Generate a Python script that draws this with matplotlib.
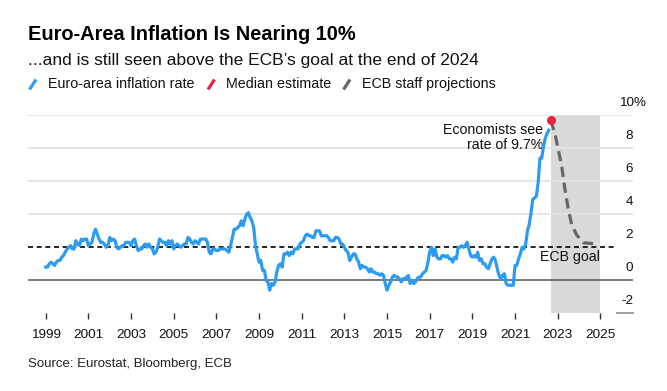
import numpy as np
import matplotlib
matplotlib.use("Agg")
import matplotlib.pyplot as plt
from matplotlib.lines import Line2D

plt.rcParams['font.family'] = ['Liberation Sans', 'DejaVu Sans']

# Euro-area HICP inflation, monthly, Jan 1999 - Aug 2022 (% y/y)
inflation = [
    0.8, 0.8, 1.0, 1.1, 1.0, 0.9, 1.1, 1.2, 1.2, 1.4, 1.5, 1.7,   # 1999
    1.9, 2.0, 2.1, 1.9, 1.9, 2.4, 2.2, 2.1, 2.5, 2.4, 2.5, 2.5,   # 2000
    2.1, 2.2, 2.3, 2.8, 3.1, 2.8, 2.5, 2.3, 2.3, 2.2, 2.0, 2.1,   # 2001
    2.6, 2.4, 2.5, 2.4, 2.0, 1.9, 2.0, 2.1, 2.1, 2.3, 2.3, 2.3,   # 2002
    2.1, 2.4, 2.5, 2.1, 1.8, 1.9, 1.9, 2.1, 2.2, 2.0, 2.2, 2.0,   # 2003
    1.9, 1.6, 1.7, 2.0, 2.5, 2.4, 2.3, 2.3, 2.1, 2.4, 2.2, 2.4,   # 2004
    1.9, 2.1, 2.2, 2.1, 2.0, 2.1, 2.2, 2.2, 2.6, 2.5, 2.3, 2.2,   # 2005
    2.4, 2.3, 2.2, 2.5, 2.5, 2.5, 2.5, 2.3, 1.7, 1.6, 1.9, 1.9,   # 2006
    1.8, 1.8, 1.9, 1.9, 1.9, 1.9, 1.8, 1.7, 2.1, 2.6, 3.1, 3.1,   # 2007
    3.2, 3.3, 3.6, 3.3, 3.7, 4.0, 4.1, 3.8, 3.6, 3.2, 2.1, 1.6,   # 2008
    1.1, 1.2, 0.6, 0.6, 0.0, -0.1, -0.6, -0.2, -0.3, -0.1, 0.5, 0.9,  # 2009
    1.0, 0.8, 1.6, 1.6, 1.7, 1.5, 1.7, 1.6, 1.9, 1.9, 1.9, 2.2,   # 2010
    2.3, 2.4, 2.7, 2.8, 2.7, 2.7, 2.6, 2.6, 3.0, 3.0, 3.0, 2.7,   # 2011
    2.7, 2.7, 2.7, 2.6, 2.4, 2.4, 2.4, 2.6, 2.6, 2.5, 2.2, 2.2,   # 2012
    2.0, 1.8, 1.7, 1.2, 1.4, 1.6, 1.6, 1.3, 1.1, 0.7, 0.9, 0.8,   # 2013
    0.8, 0.7, 0.5, 0.7, 0.5, 0.5, 0.4, 0.4, 0.3, 0.4, 0.3, -0.2,  # 2014
    -0.6, -0.3, -0.1, 0.2, 0.3, 0.2, 0.2, 0.1, -0.1, 0.1, 0.1, 0.2,  # 2015
    0.3, -0.2, 0.0, -0.2, -0.1, 0.1, 0.2, 0.2, 0.4, 0.5, 0.6, 1.1,  # 2016
    1.7, 2.0, 1.5, 1.9, 1.4, 1.3, 1.3, 1.5, 1.5, 1.4, 1.5, 1.3,   # 2017
    1.3, 1.1, 1.4, 1.3, 2.0, 2.0, 2.1, 2.0, 2.1, 2.3, 1.9, 1.5,   # 2018
    1.4, 1.5, 1.4, 1.7, 1.2, 1.3, 1.0, 1.0, 0.8, 0.7, 1.0, 1.3,   # 2019
    1.4, 1.2, 0.7, 0.3, 0.1, 0.3, 0.4, -0.2, -0.3, -0.3, -0.3, -0.3,  # 2020
    0.9, 0.9, 1.3, 1.6, 2.0, 1.9, 2.2, 3.0, 3.4, 4.1, 4.9, 5.0,   # 2021
    5.1, 5.9, 7.4, 7.4, 8.1, 8.6, 8.9, 9.1,                       # 2022
]
months = 1999 + np.arange(len(inflation)) / 12

# Median estimate (Sep 2022 flash)
median_x = [2022 + 8 / 12]
median_y = [9.7]

# ECB staff projections
proj_x = [2022.67, 2022.87, 2023.19, 2023.34, 2023.50, 2023.66, 2023.89, 2024.20, 2024.83]
proj_y = [9.7, 8.9, 6.9, 5.5, 4.3, 3.35, 2.75, 2.28, 2.2]

ecb_goal = 2.0
yticks = [8, 6, 4, 2, 0, -2]
xticks = list(range(1999, 2026, 2))

W, H = 667, 391
fig = plt.figure(figsize=(W / 100, H / 100), dpi=100)
ax = fig.add_axes([28 / W, 1 - 313.3 / H, (633 - 28) / W, (313.3 - 115.3) / H])

blue = '#2b9cf2'
red = '#e8223f'
gray = '#666666'

ax.set_xlim(1998.17, 2026.53)
ax.set_ylim(-2, 10)

# forecast shading
ax.axvspan(median_x[0], 2025.0, color='#d9d9d9', lw=0, zorder=0)

# gridlines
for v in [10, 8, 6, 4]:
    ax.axhline(v, color='#e3e3e3', lw=1.3, zorder=1)
ax.axhline(0, color='#555555', lw=1.1, zorder=2)
ax.plot([2025.8, 2026.53], [-2, -2], color='#999999', lw=1.3, clip_on=False, zorder=2)
ax.plot([1998.17, 2025.8], [ecb_goal, ecb_goal], color='black', lw=1.2,
        ls=(0, (3, 2.2)), zorder=3)

ax.plot(months, inflation, color=blue, lw=2.3, solid_joinstyle='round', zorder=4)
ax.plot(proj_x, proj_y, color=gray, lw=2.3, ls=(0, (3.2, 1.8)), zorder=4)
ax.plot(median_x, median_y, 'o', color=red, ms=6.5, mec='none', zorder=5)

for s in ax.spines.values():
    s.set_visible(False)
ax.set_yticks([])
ax.set_xticks(xticks)
ax.set_xticklabels([str(x) for x in xticks], fontsize=9.7, color='#111111')
ax.tick_params(axis='x', length=4, width=1, color='#333333', pad=7)

# right-hand value labels
for v in yticks:
    ax.annotate(str(v), (1, v), xycoords=ax.get_yaxis_transform(),
                xytext=(0, 7), textcoords='offset points',
                ha='right', va='baseline', fontsize=9.7, color='#111111')
ax.annotate('10%', (1, 10), xycoords=ax.get_yaxis_transform(),
            xytext=(-10.2, 7), textcoords='offset points',
            ha='left', va='baseline', fontsize=9.7, color='#111111')

# annotations
ax.text(2022.33, 8.87, 'Economists see', ha='right', va='baseline', fontsize=10.2, color='#111111')
ax.text(2022.33, 7.94, 'rate of 9.7%', ha='right', va='baseline', fontsize=10.2, color='#111111')
ax.text(2024.97, 1.19, 'ECB goal', ha='right', va='baseline', fontsize=10.2, color='#111111')

# titles
fig.text(28 / W, 1 - 40 / H, 'Euro-Area Inflation Is Nearing 10%', fontsize=14.4,
         fontweight='bold', va='baseline', ha='left', color='black')
fig.text(28 / W, 1 - 65 / H, '...and is still seen above the ECB\u2019s goal at the end of 2024',
         fontsize=12.5, va='baseline', ha='left', color='#111111')

# legend
leg = [(29.5, blue, 'Euro-area inflation rate'),
       (208, red, 'Median estimate'),
       (343.5, gray, 'ECB staff projections')]
for x0, c, label in leg:
    fig.add_artist(Line2D([x0 / W, (x0 + 6.5) / W], [1 - 89.5 / H, 1 - 79.5 / H],
                          color=c, lw=2.3, solid_capstyle='butt'))
    fig.text((x0 + 18) / W, 1 - 88 / H, label, fontsize=10.3, va='baseline', ha='left',
             color='#111111')

fig.text(28 / W, 1 - 366.7 / H, 'Source: Eurostat, Bloomberg, ECB', fontsize=9.5,
         va='baseline', ha='left', color='#222222')

fig.savefig('out.png', dpi=100)
